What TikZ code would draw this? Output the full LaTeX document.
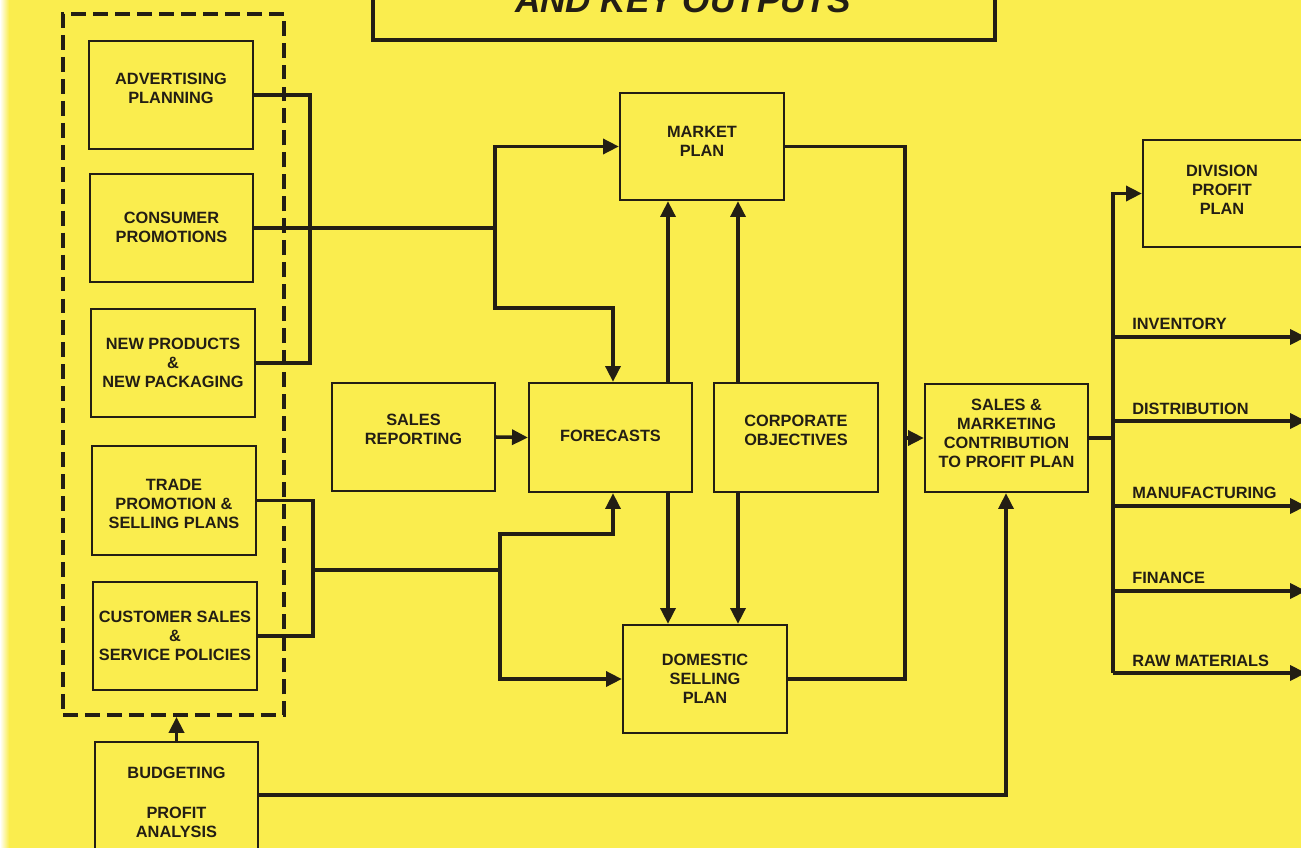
\documentclass[tikz,border=0pt]{standalone}
\usepackage{fontspec}
\setmainfont{Liberation Sans}
\usetikzlibrary{arrows.meta}
\definecolor{paper}{RGB}{250,237,78}
\definecolor{ink}{RGB}{35,30,20}
\begin{document}
\begin{tikzpicture}[x=0.02cm,y=-0.02cm,
  bx/.style 2 args={draw=ink, line width=1.3pt, inner sep=0pt, minimum width=#1*0.02cm, minimum height=#2*0.02cm},
  lab/.style={font=\bfseries\fontsize{9.3}{10.8}\selectfont, align=center, text=ink, inner sep=0pt},
  outl/.style={font=\bfseries\fontsize{9.3}{10.8}\selectfont, text=ink, inner sep=0pt, anchor=base west},
  conn/.style={draw=ink, line width=2pt},
  arr/.style={conn, -{Triangle[length=9pt,width=8.5pt]}}]
\useasboundingbox (0,0) rectangle (1301,848);
\fill[paper] (0,0) rectangle (1301,848);
\shade[left color=white, right color=paper] (0,0) rectangle (9,848);

% title
\node[draw=ink, line width=2pt, minimum width=622*0.02cm, minimum height=100*0.02cm] (title) at (684,-10) {};
\node[font=\bfseries\itshape\fontsize{20}{24}\selectfont, anchor=base, text=ink, inner sep=0pt] (titleT) at (683,13) {AND KEY OUTPUTS};

% dashed group
\node[draw=ink, line width=2.2pt, dash pattern=on 8.5pt off 4pt, minimum width=221*0.02cm, minimum height=701*0.02cm] (grp) at (173.5,364.5) {};

% left column
\node[bx={164}{108}] (adv) at (171,95) {};
\node[lab] (advT) at (171,88.5) {ADVERTISING\\PLANNING};
\node[bx={163}{108}] (cons) at (171.5,228) {};
\node[lab] (consT) at (171.5,227) {CONSUMER\\PROMOTIONS};
\node[bx={164}{108}] (newp) at (173,363) {};
\node[lab] (newpT) at (173,363) {NEW PRODUCTS\\\&\\NEW PACKAGING};
\node[bx={164}{109}] (trade) at (174,500.5) {};
\node[lab] (tradeT) at (174,503.5) {TRADE\\PROMOTION \&\\SELLING PLANS};
\node[bx={164}{108}] (cust) at (175,636) {};
\node[lab] (custT) at (175,635.5) {CUSTOMER SALES\\\&\\SERVICE POLICIES};
\node[bx={163}{120}] (budg) at (176.5,802) {};
\node[lab] (budgT) at (176.5,802) {BUDGETING\\[11.9pt]PROFIT\\ANALYSIS};

% centre
\node[bx={163}{108}] (sr) at (413.5,437) {};
\node[lab] (srT) at (413.5,429.5) {SALES\\REPORTING};
\node[bx={163}{109}] (fore) at (610.5,437.5) {};
\node[lab] (foreT) at (610.5,436) {FORECASTS};
\node[bx={164}{109}] (corp) at (796,437.5) {};
\node[lab] (corpT) at (796,430) {CORPORATE\\OBJECTIVES};
\node[bx={164}{107}] (market) at (702,146.5) {};
\node[lab] (marketT) at (702,141) {MARKET\\PLAN};
\node[bx={164}{108}] (dom) at (705,679) {};
\node[lab] (domT) at (705,678.5) {DOMESTIC\\SELLING\\PLAN};
\node[bx={163}{108}] (sm) at (1006.5,438) {};
\node[lab] (smT) at (1006.5,433.5) {SALES \&\\MARKETING\\CONTRIBUTION\\TO PROFIT PLAN};
\node[bx={160}{107}] (div) at (1223,193.5) {};
\node[lab] (divT) at (1222,190) {DIVISION\\PROFIT\\PLAN};

% connectors
\coordinate (u1) at (310,230);
\draw[conn] (adv.east) -| (u1) |- (newp.east);
\coordinate (c1) at (495,228);
\draw[conn] (cons.east) -- (c1);
\draw[arr] (c1) |- (market.west);
\coordinate (c2) at (613,308);
\draw[arr] (c1) |- (c2) -- (fore.north -| c2);
\coordinate (a1) at (668,0);
\coordinate (a2) at (738,0);
\draw[arr] (fore.north -| a1) -- (market.south -| a1);
\draw[arr] (corp.north -| a2) -- (market.south -| a2);
\draw[arr] (fore.south -| a1) -- (dom.north -| a1);
\draw[arr] (corp.south -| a2) -- (dom.north -| a2);
\draw[arr] (sr.east) -- (fore.west);
\coordinate (l1) at (313,570);
\draw[conn] (trade.east) -| (l1) |- (cust.east);
\coordinate (d1) at (500,570);
\draw[conn] (l1) -- (d1);
\coordinate (d2) at (613,534);
\draw[arr] (d1) |- (d2) -- (fore.south -| d2);
\draw[arr] (d1) |- (dom.west);
\coordinate (r1) at (905,438);
\draw[conn] (market.east) -| (r1) |- (dom.east);
\draw[arr] (r1) -- (sm.west);
\coordinate (b1) at (1006,795);
\draw[arr] (budg.east |- b1) -- (b1) -- (sm.south -| b1);
\draw[arr] (budg.north) -- (grp.south -| budg.north);

% outputs
\coordinate (o0) at (1113,438);
\coordinate (o5) at (1113,673);
\draw[conn] (sm.east) -- (o0);
\draw[arr] (o0) |- (div.west);
\draw[conn] (o0) -- (o5);
\coordinate (e1) at (1306,337);
\coordinate (e2) at (1306,421);
\coordinate (e3) at (1306,506);
\coordinate (e4) at (1306,591);
\coordinate (e5) at (1306,673);
\draw[arr] (o0 |- e1) -- (e1);
\draw[arr] (o0 |- e2) -- (e2);
\draw[arr] (o0 |- e3) -- (e3);
\draw[arr] (o0 |- e4) -- (e4);
\draw[arr] (o5) -- (e5);
\node[outl] (invL) at (1132,329) {INVENTORY};
\node[outl] (disL) at (1132,414) {DISTRIBUTION};
\node[outl] (manL) at (1132,498) {MANUFACTURING};
\node[outl] (finL) at (1132,583) {FINANCE};
\node[outl] (rawL) at (1132,666) {RAW MATERIALS};
\end{tikzpicture}
\end{document}
